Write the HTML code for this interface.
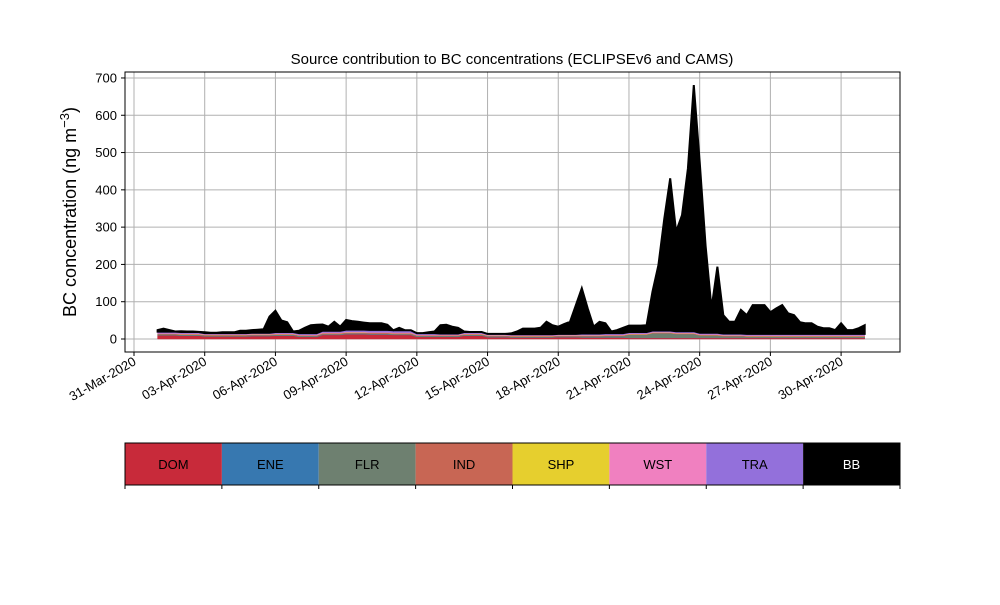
<!DOCTYPE html>
<html><head><meta charset="utf-8"><style>
body{margin:0;background:#fff;font-family:"Liberation Sans",sans-serif}
svg text{font-family:"Liberation Sans",sans-serif}
</style></head><body>
<svg id="chart" width="1000" height="600" viewBox="0 0 1000 600" xmlns="http://www.w3.org/2000/svg">
<rect width="1000" height="600" fill="#fff"/>
<text x="512" y="64" font-size="15" text-anchor="middle">Source contribution to BC concentrations (ECLIPSEv6 and CAMS)</text>
<text transform="translate(76,212) rotate(-90)" font-size="18" text-anchor="middle">BC concentration (ng m<tspan dy="-7" font-size="13">−3</tspan><tspan dy="7">)</tspan></text>
<g id="grid"></g>
<g id="areas"></g>
<rect x="125" y="72" width="775" height="280" fill="none" stroke="#000" stroke-width="1"/>
<g id="axes"></g>
<g id="legend"></g>
</svg>
<script>
const sectorNames=["DOM","ENE","FLR","IND","SHP","WST","TRA","BB"];
const sectorColors=["#c82a3a","#3778b0","#6e8070","#c86654","#e6cf2e","#f080c0","#9370db","#000000"];
const xTickLabels=["31-Mar-2020","03-Apr-2020","06-Apr-2020","09-Apr-2020","12-Apr-2020","15-Apr-2020","18-Apr-2020","21-Apr-2020","24-Apr-2020","27-Apr-2020","30-Apr-2020"];
const xTickDays=[0,3,6,9,12,15,18,21,24,27,30];
const yTicks=[0,100,200,300,400,500,600,700];
// total concentration, 6-hourly from day 1.0 (1-Apr) to day 31.0
const total=[24,28,24,20, 21,20,20,19, 18,17,17,18, 18,18,22,22, 24,25,26,60,
 76,50,45,20, 22,30,37,38, 39,33,46,33, 51,48,46,44, 42,42,42,38, 10,30,15,13,
 13,14,18,20, 37,38,33,30, 20,17,15,14, 13,12,11,11, 15,20,28,28, 28,30,46,37,
 33,40,46,91, 136,82,33,46, 42,20,24,30, 36,36,36,37, 127,198,323,431,
 288,332,457,681, 475,250,82,194, 64,46,46,78, 64,91,91,91, 72,82,91,69,
 64,45,42,42, 33,29,29,24, 42,24,24,29, 37];
// daily sector values (day 1..31)
const dom=[10,9,7,7,8,9,6,11,13,12,11,6,6,9,5,4,4,5,4,4,3,3,3,3,3,3,3,3,3,3,3];
const ene=[0.5,0.5,0.5,0.5,0.5,0.5,0.5,0.5,0.5,0.5,0.5,0.5,0.5,0.5,0.5,0.5,0.5,0.5,0.5,0.5,0.5,0.5,0.5,0.5,0.5,0.5,0.5,0.5,0.5,0.5,0.5];
const flr=[2,2,2,2,2,2,2,2,2,2,2,2,2,2,2,2,2,2,3,4,8,12,10,6,4,3,3,3,3,3,3];
const ind=[1.5,1.5,1.5,1.5,1.5,1.5,1.5,2,2,2,2,1.5,1.5,1.5,1.5,1.5,1.5,1.5,1.5,1.5,1.5,1.5,1.5,1.5,1.5,1.5,1.5,1.5,1.5,1.5,1.5];
const shp=[0.3,0.3,0.3,0.3,0.3,0.3,0.3,0.3,0.3,0.3,0.3,0.3,0.3,0.3,0.3,0.3,0.3,0.3,0.3,0.3,0.3,0.3,0.3,0.3,0.3,0.3,0.3,0.3,0.3,0.3,0.3];
const wst=[1.5,1.5,1.5,1.5,1.5,1.5,1.5,1.5,1.5,1.5,1.5,1.5,1.5,1.5,1.5,1.5,1.5,1.5,1.5,1.5,1.5,1.5,1.5,1.5,1.5,1.5,1.5,1.5,1.5,1.5,1.5];
const tra=[4,4,3,3,3,4,4,5,6,6,6,4,3,4,3,3,3,3,4,4,4,4,4,4,4,4,4,4,4,4,4];
const startDay=1.0, stepDay=0.25;

const NS="http://www.w3.org/2000/svg";
const X0=134, PXD=23.57, Y0=339, PXV=0.3729;
const xs=d=>X0+d*PXD;
const ys=v=>Y0-v*PXV;
function mk(tag,attrs,parent){const e=document.createElementNS(NS,tag);for(const k in attrs)e.setAttribute(k,attrs[k]);parent.appendChild(e);return e;}

const grid=document.getElementById('grid'), axes=document.getElementById('axes');
xTickDays.forEach((d,i)=>{
  const x=xs(d);
  const gl=mk('line',{x1:x,x2:x,y1:72,y2:352,stroke:'#b0b0b0','stroke-width':1},grid);
  
  
  const tk=mk('line',{x1:x,x2:x,y1:352,y2:356,stroke:'#000'},axes);
  
  
  const t=mk('text',{transform:`translate(${x+3},${364}) rotate(-30)`,'font-size':13,'text-anchor':'end'},axes);
  t.textContent=xTickLabels[i];
  
  
});
yTicks.forEach(v=>{
  const y=ys(v);
  const gl=mk('line',{x1:125,x2:900,y1:y,y2:y,stroke:'#b0b0b0','stroke-width':1},grid);
  
  
  const tk=mk('line',{x1:121,x2:125,y1:y,y2:y,stroke:'#000'},axes);
  
  
  const t=mk('text',{x:117,y:y+4.5,'font-size':13,'text-anchor':'end'},axes);
  t.textContent=v;
  
  
});

// stack
const daily=[dom,ene,flr,ind,shp,wst,tra];
const n=total.length;
const layers=[];
for(let i=0;i<n;i++){
  const day=startDay+i*stepDay;
  const di=Math.min(daily[0].length-1,Math.max(0,Math.floor(day)-1));
  const vals=daily.map(a=>a[di]);
  const s=vals.reduce((a,b)=>a+b,0);
  vals.push(Math.max(0,total[i]-s));
  layers.push(vals);
}
const areas=document.getElementById('areas');
let base=new Array(n).fill(0);
sectorNames.forEach((nm,k)=>{
  const top=base.map((b,i)=>b+layers[i][k]);
  let d='';
  for(let i=0;i<n;i++){const x=xs(startDay+i*stepDay);d+=(i?'L':'M')+x.toFixed(1)+','+ys(top[i]).toFixed(1);}
  for(let i=n-1;i>=0;i--){const x=xs(startDay+i*stepDay);d+='L'+x.toFixed(1)+','+ys(base[i]).toFixed(1);}
  const p=mk('path',{d:d+'Z',fill:sectorColors[k],stroke:sectorColors[k],'stroke-width':k===7?2:0.5},areas);
  
  
  base=top;
});

// legend
const lg=document.getElementById('legend');
const cw=775/sectorNames.length;
sectorNames.forEach((nm,k)=>{
  const x=125+k*cw;
  const r=mk('rect',{x:x,y:443,width:cw,height:42,fill:sectorColors[k]},lg);
  
  
  const t=mk('text',{x:x+cw/2,y:469,'font-size':13,'text-anchor':'middle',fill:k===7?'#fff':'#000'},lg);
  t.textContent=nm;
  
  
});
mk('rect',{x:125,y:443,width:775,height:42,fill:'none',stroke:'#000','stroke-width':1},lg);
for(let k=0;k<=sectorNames.length;k++){
  const x=125+k*cw;
  const tk=mk('line',{x1:x,x2:x,y1:485,y2:489,stroke:'#000'},lg);
  
  
}
</script>
</body></html>
